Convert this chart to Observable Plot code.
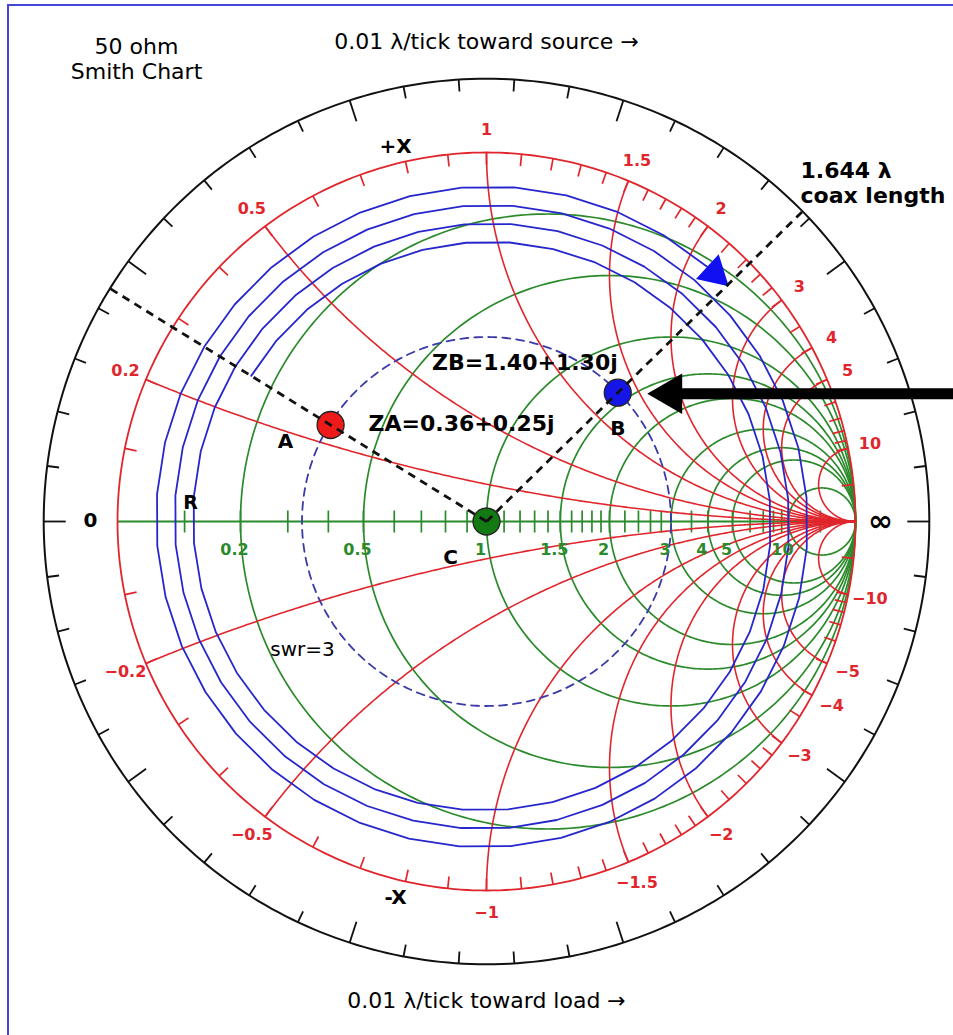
<!DOCTYPE html>
<html><head><meta charset="utf-8">
<script src="https://cdn.jsdelivr.net/npm/d3@7"></script>
<script src="https://cdn.jsdelivr.net/npm/@observablehq/plot@0.6"></script>
<style>
html,body{margin:0;padding:0;background:#fff;}
#wrap{position:relative;width:953px;height:1035px;overflow:hidden;background:#fff;}
#border{position:absolute;left:7px;top:4px;width:1000px;height:1100px;border-left:2px solid #4646d6;border-top:2px solid #4646d6;pointer-events:none;}
</style></head><body>
<div id="wrap"><div id="chart"></div><div id="border"></div></div>
<script>
// ---------------- data ----------------
const tickValues = [0.1,0.2,0.3,0.4,0.5,0.6,0.7,0.8,0.9,1.0,1.1,1.2,1.3,1.4,1.5,1.6,1.7,1.8,1.9,2.0,2.2,2.4,2.6,2.8,3.0,3.5,4,5,6,7,8,9,10,20];
const resistanceCircles = [0.2,0.5,1,1.5,2,3,4,5,10];
const resistanceLabels = ["0.2","0.5","1","1.5","2","3","4","5","10"];
const reactanceArcs = [0.2,0.5,1,1.5,2,3,4,5,10];
const reactanceLabelsPos = ["0.2","0.5","1","1.5","2","3","4","5","10"];
const reactanceLabelsNeg = ["\u22120.2","\u22120.5","\u22121","\u22121.5","\u22122","\u22123","\u22124","\u22125","\u221210"];
const pointNames = ["A","B","C"];
const pointR = [0.36, 1.40, 1.0];
const pointX = [0.25, 1.30, 0.0];
const pointColors = ["#ee1a1a","#1515e8","#137a13"];
const pointTexts = ["ZA=0.36+0.25j","ZB=1.40+1.30j",""];
const swr = 3;
const coaxLength = 1.644;          // wavelengths
const spiralStartMag = 0.75;
const spiralEndMag = 0.914;
const spiralStep = 0.0125;         // wavelengths per drawn segment
const lambdaPerTick = 0.01;
const lambdaPerTurn = 0.5;

// ---------------- helpers ----------------
const W = 953, H = 1035, CX = 486, CY = 521, UNIT = 369;
const OUTER = 1.2;
const RED = "#e0262c", GREEN = "#2b8a2b", BLUE = "#2626cc", DBLUE = "#3a3aa8";
const FONT = "DejaVu Sans";
function gamma(r, x) {
  const d = (r + 1) * (r + 1) + x * x;
  return [(r * r - 1 + x * x) / d, (2 * x) / d];
}
const px = 1 / UNIT;

// resistance circles
const rCircleRows = [];
resistanceCircles.forEach((r, i) => {
  const c = r / (1 + r), rad = 1 / (1 + r);
  for (let k = 0; k <= 360; k++) {
    const a = k * Math.PI / 180;
    rCircleRows.push({x: c + rad * Math.cos(a), y: rad * Math.sin(a), g: "r" + i});
  }
});
// reactance arcs
const xArcRows = [];
reactanceArcs.forEach((xv, i) => {
  for (const s of [1, -1]) {
    for (let k = 0; k < 400; k++) {
      const t = k / 400;
      const r = Math.pow(t, 2) / (1 - t) * 3;
      const [gx, gy] = gamma(r, s * xv);
      xArcRows.push({x: gx, y: gy, g: "x" + i + s});
    }
    xArcRows.push({x: 1, y: 0, g: "x" + i + s});
  }
});
// unit circle and outer circle
const unitRows = d3.range(0, 361).map(k => ({x: Math.cos(k * Math.PI / 180), y: Math.sin(k * Math.PI / 180)}));
const outerRows = unitRows.map(d => ({x: d.x * OUTER, y: d.y * OUTER}));
const swrMag = (swr - 1) / (swr + 1);
const swrRows = unitRows.map(d => ({x: d.x * swrMag, y: d.y * swrMag}));

// black wavelength ticks
const nTicks = Math.round(lambdaPerTurn / lambdaPerTick);
const blackTicks = d3.range(nTicks).map(k => {
  const a = k * 2 * Math.PI / nTicks, len = (k % 5 === 0 ? 22 : 12) * px;
  return {x1: OUTER * Math.cos(a), y1: OUTER * Math.sin(a), x2: (OUTER - len) * Math.cos(a), y2: (OUTER - len) * Math.sin(a)};
});
// red reactance ticks on unit circle
const redTicks = [];
tickValues.forEach(v => [1, -1].forEach(s => {
  const [gx, gy] = gamma(0, s * v), len = 12 * px;
  redTicks.push({x1: gx, y1: gy, x2: gx * (1 - len), y2: gy * (1 - len)});
}));
// green resistance ticks on axis
const greenTicks = tickValues.map(v => {
  const [gx] = gamma(v, 0);
  return {x1: gx, y1: -11 * px, x2: gx, y2: 11 * px};
});
// labels
const redLabelRows = [];
reactanceArcs.forEach((v, i) => {
  const [ax, ay] = gamma(0, v), [bx, by] = gamma(0, -v);
  redLabelRows.push({x: ax * 1.06, y: ay * 1.06, t: reactanceLabelsPos[i]});
  redLabelRows.push({x: bx * 1.06, y: by * 1.06, t: reactanceLabelsNeg[i]});
});
const greenLabelRows = resistanceCircles.map((r, i) => ({x: gamma(r, 0)[0], y: 0, t: resistanceLabels[i]}));

// points
const pts = pointNames.map((n, i) => {
  const [gx, gy] = gamma(pointR[i], pointX[i]);
  return {name: n, x: gx, y: gy, fill: pointColors[i], t: pointTexts[i]};
});
const A = pts[0], B = pts[1], C = pts[2];
const angA = Math.atan2(A.y, A.x), angB = Math.atan2(B.y, B.x);
const dashRows = [angA, angB].map(a => ({x1: C.x, y1: C.y, x2: OUTER * Math.cos(a), y2: OUTER * Math.sin(a)}));

// spiral (clockwise = toward source)
const ls = d3.range(0, coaxLength, spiralStep).concat([coaxLength]);
const spiral = ls.map(l => {
  const a = angA - 2 * Math.PI * l / lambdaPerTurn;
  const m = spiralStartMag + (spiralEndMag - spiralStartMag) * l / coaxLength;
  return {x: m * Math.cos(a), y: m * Math.sin(a)};
});
const headL = coaxLength - 0.004;
const headA = angA - 2 * Math.PI * headL / lambdaPerTurn;
const headM = spiralStartMag + (spiralEndMag - spiralStartMag) * headL / coaxLength;
const headDeg = ((headA * 180 / Math.PI) % 360 + 360) % 360;
const blueHead = [{x: headM * Math.cos(headA), y: headM * Math.sin(headA), rot: 180 - headDeg}];

// big black pointer arrow toward B
const arrowTipX = B.x + 31 * px, arrowY = B.y - 1 * px;
const bigHead = [{x: arrowTipX + 21.8 * px, y: arrowY}];

const chart = Plot.plot({
  width: W, height: H,
  margin: 0,
  x: {domain: [-CX / UNIT, (W - CX) / UNIT], axis: null},
  y: {domain: [(CY - H) / UNIT, CY / UNIT], axis: null},
  style: {fontFamily: FONT, background: "#fff"},
  marks: [
    Plot.line(rCircleRows, {x: "x", y: "y", z: "g", stroke: GREEN, strokeWidth: 1.7}),
    Plot.ruleY([0], {x1: -1, x2: 1, stroke: GREEN, strokeWidth: 1.8}),
    Plot.link(greenTicks, {x1: "x1", y1: "y1", x2: "x2", y2: "y2", stroke: GREEN, strokeWidth: 1.7}),
    Plot.line(xArcRows, {x: "x", y: "y", z: "g", stroke: RED, strokeWidth: 1.6}),
    Plot.line(unitRows, {x: "x", y: "y", stroke: RED, strokeWidth: 1.8}),
    Plot.link(redTicks, {x1: "x1", y1: "y1", x2: "x2", y2: "y2", stroke: RED, strokeWidth: 1.7}),
    Plot.line(outerRows, {x: "x", y: "y", stroke: "#111", strokeWidth: 2}),
    Plot.link(blackTicks, {x1: "x1", y1: "y1", x2: "x2", y2: "y2", stroke: "#111", strokeWidth: 1.8}),
    Plot.line(spiral, {x: "x", y: "y", stroke: BLUE, strokeWidth: 1.8}),
    Plot.dot(blueHead, {x: "x", y: "y", symbol: "triangle", r: 11.5, rotate: "rot", fill: "#1010f0", stroke: "#1010f0"}),
    Plot.line(swrRows, {x: "x", y: "y", stroke: DBLUE, strokeWidth: 1.8, strokeDasharray: "8,6"}),
    Plot.dot(pts, {x: "x", y: "y", r: 13.5, fill: "fill", stroke: "#222", strokeWidth: 1.3}),
    Plot.link(dashRows, {x1: "x1", y1: "y1", x2: "x2", y2: "y2", stroke: "#111", strokeWidth: 2.8, strokeDasharray: "8,6"}),
    // red & green scale labels
    Plot.text(redLabelRows, {x: "x", y: "y", text: "t", fill: RED, fontWeight: "bold", fontSize: 16}),
    Plot.text(greenLabelRows, {x: "x", y: "y", text: "t", fill: GREEN, fontWeight: "bold", fontSize: 16, dx: -6, dy: 28}),
    // point labels
    Plot.text([A], {x: "x", y: "y", text: "name", fontWeight: "bold", fontSize: 20, dx: -45, dy: 17}),
    Plot.text([B], {x: "x", y: "y", text: "name", fontWeight: "bold", fontSize: 20, dx: 0, dy: 36}),
    Plot.text([C], {x: "x", y: "y", text: "name", fontWeight: "bold", fontSize: 20, dx: -36, dy: 36}),
    Plot.text([A], {x: "x", y: "y", text: "t", fontWeight: "bold", fontSize: 22, textAnchor: "start", dx: 38, dy: -1}),
    Plot.text([B], {x: "x", y: "y", text: "t", fontWeight: "bold", fontSize: 22, textAnchor: "end", dx: 0, dy: -30}),
    // annotations
    Plot.text(["+X"], {x: -0.2466, y: 1.0163, text: d => d, fontWeight: "bold", fontSize: 20}),
    Plot.text(["-X"], {x: -0.2466, y: -1.019, text: d => d, fontWeight: "bold", fontSize: 20}),
    Plot.text(["0"], {x: -1.0732, y: 0.003, text: d => d, fontWeight: "bold", fontSize: 20}),
    Plot.text(["\u221e"], {x: 1.0678, y: 0, text: d => d, fontWeight: "bold", fontSize: 30}),
    Plot.text(["R"], {x: -0.8022, y: 0.0515, text: d => d, fontWeight: "bold", fontSize: 19}),
    Plot.text(["swr=3"], {x: -0.4986, y: -0.3458, text: d => d, fontSize: 20}),
    Plot.text(["1.644 \u03bb\ncoax length"], {x: (800 - CX) / UNIT, y: (CY - 182) / UNIT, text: d => d, fontWeight: "bold", fontSize: 22, textAnchor: "start", lineAnchor: "middle", lineHeight: 1.15}),
    Plot.text(["50 ohm\nSmith Chart"], {frameAnchor: "top-left", dx: 136, dy: 58, text: d => d, fontSize: 22, lineHeight: 1.15, textAnchor: "middle", lineAnchor: "middle"}),
    Plot.text(["0.01 \u03bb/tick toward source \u2192"], {x: 0, frameAnchor: "top", dy: 41, text: d => d, fontSize: 22, lineAnchor: "middle"}),
    Plot.text(["0.01 \u03bb/tick toward load \u2192"], {x: 0, frameAnchor: "bottom", dy: -35, text: d => d, fontSize: 22, lineAnchor: "middle"}),
    // big pointer arrow
    Plot.link([{x1: bigHead[0].x, x2: 1.4, y: arrowY}], {x1: "x1", x2: "x2", y1: "y", y2: "y", stroke: "#000", strokeWidth: 11}),
    Plot.dot(bigHead, {x: "x", y: "y", symbol: "triangle", r: 14, rotate: -90, fill: "#000", stroke: "#000"})
  ]
});
document.getElementById("chart").appendChild(chart);
</script>
</body></html>
